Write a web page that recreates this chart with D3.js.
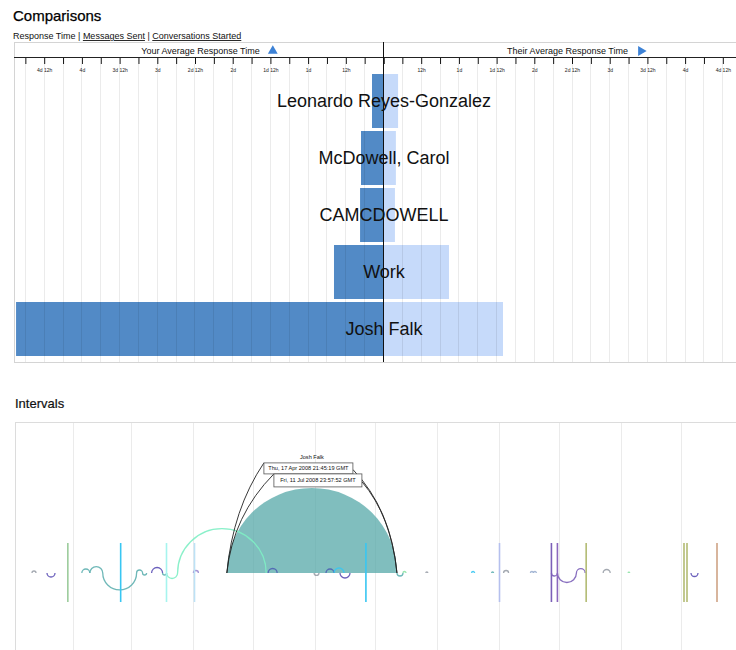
<!DOCTYPE html>
<html>
<head>
<meta charset="utf-8">
<script src="https://cdn.jsdelivr.net/npm/d3@7"></script>
<style>
body { margin: 0; background: #fff; font-family: "Liberation Sans", Arial, sans-serif; }
svg { display: block; }
</style>
</head>
<body>
<svg id="viz" width="736" height="650"></svg>
<script>
// --- comparisons data (hours) ---
const names = ["Leonardo Reyes-Gonzalez", "McDowell, Carol", "CAMCDOWELL", "Work", "Josh Falk"];
const yourHours = [3.5, 7, 7.3, 15.6, 116.8];
const theirHours = [4.8, 4.1, 3.8, 21, 38.2];
const tickHours = d3.range(0, 115, 6);
const menu = ["Response Time", "Messages Sent", "Conversations Started"];
const headerLabels = ["Your Average Response Time", "Their Average Response Time"];

// --- intervals data ---
// [start, end, contact, direction]  direction 1 = above the line, -1 = below
const intervals = [
    ["2008-01-11T12:00Z", "2008-01-13T12:00Z", "c1", 1],
    ["2008-01-19T00:00Z", "2008-01-23T00:00Z", "c2", -1],
    ["2008-02-05T10:00Z", "2008-02-09T10:00Z", "Josh Falk", 1],
    ["2008-02-09T10:00Z", "2008-02-15T21:00Z", "Josh Falk", 1],
    ["2008-02-15T21:00Z", "2008-03-03T19:00Z", "Josh Falk", -1],
    ["2008-03-03T19:00Z", "2008-03-06T19:00Z", "Josh Falk", 1],
    ["2008-03-06T19:00Z", "2008-03-08T19:00Z", "Josh Falk", -1],
    ["2008-03-11T07:00Z", "2008-03-16T19:00Z", "c2", 1],
    ["2008-03-16T19:00Z", "2008-03-18T19:00Z", "Josh Falk", -1],
    ["2008-03-18T19:00Z", "2008-03-24T07:00Z", "c3", -1],
    ["2008-03-24T07:00Z", "2008-05-07T14:00Z", "c3", 1],
    ["2008-04-01T05:00Z", "2008-04-03T17:00Z", "c4", 1],
    ["2008-04-17T21:45:19Z", "2008-07-11T23:57:52Z", "Josh Falk", 1],
    ["2008-05-08T14:00Z", "2008-05-13T02:00Z", "c5", 1],
    ["2008-05-31T13:00Z", "2008-06-03T00:00Z", "c1", -1],
    ["2008-06-06T12:00Z", "2008-06-10T12:00Z", "c5", 1],
    ["2008-06-10T12:00Z", "2008-06-15T12:00Z", "c6", 1],
    ["2008-06-13T12:00Z", "2008-06-18T12:00Z", "c2", -1],
    ["2008-07-12T00:00Z", "2008-07-15T00:00Z", "Josh Falk", -1],
    ["2008-07-15T00:00Z", "2008-07-16T12:00Z", "c7", 1],
    ["2008-07-26T10:00Z", "2008-07-27T10:00Z", "c1", 1],
    ["2008-08-18T07:00Z", "2008-08-19T19:00Z", "c6", 1],
    ["2008-08-28T07:00Z", "2008-08-29T07:00Z", "Josh Falk", 1],
    ["2008-09-03T07:00Z", "2008-09-05T19:00Z", "c1", 1],
    ["2008-09-16T17:00Z", "2008-09-18T05:00Z", "c8", 1],
    ["2008-09-18T05:00Z", "2008-09-19T17:00Z", "c8", 1],
    ["2008-09-27T05:00Z", "2008-09-30T05:00Z", "c9", -1],
    ["2008-09-30T05:00Z", "2008-10-09T17:00Z", "c9", -1],
    ["2008-10-09T17:00Z", "2008-10-14T02:00Z", "c9", 1],
    ["2008-10-23T02:00Z", "2008-10-26T14:00Z", "c1", 1],
    ["2008-11-04T14:00Z", "2008-11-05T08:00Z", "c7", 1],
    ["2008-12-06T00:00Z", "2008-12-09T12:00Z", "c2", -1]
];
// [time, contact] single message marks
const marks = [
    ["2008-01-29T10:00Z", "c10"],
    ["2008-02-24T20:00Z", "c6"],
    ["2008-03-18T18:00Z", "c11"],
    ["2008-04-01T18:00Z", "c12"],
    ["2008-06-26T11:00Z", "c6"],
    ["2008-09-01T06:00Z", "c13"],
    ["2008-09-27T05:00Z", "c9"],
    ["2008-09-30T05:00Z", "c14"],
    ["2008-10-14T14:00Z", "c15"],
    ["2008-12-02T12:00Z", "c15"],
    ["2008-12-04T00:00Z", "c15"],
    ["2008-12-19T00:00Z", "c16"]
];
const selected = 12; // the hovered interval

const contactColor = {
    "Josh Falk": "#5fb0b0", c1: "#9aa0a8", c2: "#5b4fb5", c3: "#7eeec4", c4: "#9a8ad0",
    c5: "#4e62b4", c6: "#38c6f2", c7: "#8fe3a6", c8: "#9cb0d0", c9: "#7b5fb8",
    c10: "#9ccc9c", c11: "#a6f4ee", c12: "#bde2f6", c13: "#b5c0ee", c14: "#8b68bd",
    c15: "#b3bb74", c16: "#cfa385"
};

const svg = d3.select('#viz');

// ===== Comparisons =====
svg.append('text')
    .attr('x', 13).attr('y', 21)
    .style('font-size', '15px').style('fill', '#000')
    .style('stroke', '#000').style('stroke-width', 0.25)
    .text('Comparisons');

const menuText = svg.append('text')
    .attr('x', 13).attr('y', 39)
    .style('font-size', '9px').style('fill', '#111');
menu.forEach((m, i) => {
    if (i > 0) menuText.append('tspan').text(' | ');
    menuText.append('tspan')
        .style('text-decoration', i > 0 ? 'underline' : 'none')
        .text(m);
});

const mid = 383;
const pxPerHour = 75.4 / 24;
const leftX = d3.scaleLinear().domain([0, 120]).range([mid, mid - 120 * pxPerHour]);
const rightX = d3.scaleLinear().domain([0, 120]).range([mid, mid + 120 * pxPerHour]);

const boxTop = 42, boxBottom = 362, headLine = 57;

svg.append('rect')
    .attr('x', 14.5).attr('y', boxTop + 0.5)
    .attr('width', 760).attr('height', boxBottom - boxTop)
    .attr('fill', 'none').attr('stroke', '#d4d4d4');

const headerX = [(14 + mid) / 2 + 2, mid + (mid - 14) / 2];
headerLabels.forEach((h, i) => {
    const t = svg.append('text')
        .attr('x', headerX[i]).attr('y', 54)
        .attr('text-anchor', 'middle')
        .style('font-size', '9px').style('fill', '#111')
        .text(h);
    const len = t.node().getComputedTextLength();
    svg.append('path')
        .attr('d', d3.symbol(d3.symbolTriangle, 42)())
        .attr('transform', `translate(${headerX[i] + len / 2 + 13}, 51) rotate(${i === 0 ? 0 : 90})`)
        .attr('fill', '#3d82d6');
});

const rowY = d3.scaleBand()
    .domain(names)
    .range([72.5, 357.5])
    .paddingInner(3 / 57)
    .paddingOuter(1.5 / 57);

function fmtHours(h) {
    if (h === 0 || h % 12 !== 0) return '';
    const d = Math.floor(h / 24);
    if (d === 0) return '12h';
    return h % 24 === 0 ? d + 'd' : d + 'd 12h';
}

const bars = svg.append('g');
bars.selectAll('rect.you')
    .data(names)
    .join('rect')
    .attr('class', 'you')
    .attr('x', (d, i) => leftX(yourHours[i]))
    .attr('y', d => rowY(d))
    .attr('width', (d, i) => mid - leftX(yourHours[i]))
    .attr('height', rowY.bandwidth())
    .attr('fill', '#528ac6');

bars.selectAll('rect.them')
    .data(names)
    .join('rect')
    .attr('class', 'them')
    .attr('x', mid)
    .attr('y', d => rowY(d))
    .attr('width', (d, i) => rightX(theirHours[i]) - mid)
    .attr('height', rowY.bandwidth())
    .attr('fill', '#c6dafa');

// grid lines on top of the bars
const grid = svg.append('g');
[leftX, rightX].forEach(sc => {
    grid.selectAll(null)
        .data(tickHours.filter(h => h > 0))
        .join('line')
        .attr('x1', d => Math.round(sc(d)) + 0.5)
        .attr('x2', d => Math.round(sc(d)) + 0.5)
        .attr('y1', headLine + 7)
        .attr('y2', boxBottom)
        .attr('stroke', '#000')
        .attr('stroke-opacity', 0.08);
});

// axes
[leftX, rightX].forEach(sc => {
    const ax = svg.append('g')
        .attr('transform', `translate(0.5, ${headLine})`)
        .call(d3.axisBottom(sc).tickValues(tickHours).tickSize(7).tickFormat(fmtHours));
    ax.select('.domain').remove();
    ax.selectAll('line').attr('stroke', '#111');
    ax.selectAll('text')
        .attr('y', 15).attr('dy', 0)
        .style('font-family', '"Liberation Sans", Arial, sans-serif')
        .style('font-size', '5px')
        .style('fill', '#222');
});

svg.append('line')
    .attr('x1', 14).attr('x2', 736)
    .attr('y1', headLine + 0.5).attr('y2', headLine + 0.5)
    .attr('stroke', '#222');

svg.append('line')
    .attr('x1', mid + 0.5).attr('x2', mid + 0.5)
    .attr('y1', boxTop).attr('y2', boxBottom)
    .attr('stroke', '#111');

svg.append('g').selectAll('text')
    .data(names)
    .join('text')
    .attr('x', mid + 1)
    .attr('y', d => rowY(d) + rowY.bandwidth() / 2)
    .attr('dy', '0.36em')
    .attr('text-anchor', 'middle')
    .style('font-size', '18px')
    .style('fill', '#111')
    .text(d => d);

// ===== Intervals =====
svg.append('text')
    .attr('x', 15).attr('y', 408)
    .style('font-size', '13px').style('fill', '#111')
    .style('stroke', '#111').style('stroke-width', 0.2)
    .text('Intervals');

const iTop = 422, iBottom = 660, base = 573;
const xT = d3.scaleUtc()
    .domain([new Date(Date.UTC(2008, 0, 3)), new Date(Date.UTC(2009, 0, 1))])
    .range([15, 743]);

svg.append('rect')
    .attr('x', 15.5).attr('y', iTop + 0.5)
    .attr('width', 760).attr('height', iBottom - iTop)
    .attr('fill', 'none').attr('stroke', '#dcdcdc');

svg.append('g').selectAll('line')
    .data(xT.ticks(d3.utcMonth).filter(d => d > xT.domain()[0]))
    .join('line')
    .attr('x1', d => Math.round(xT(d)) + 0.5)
    .attr('x2', d => Math.round(xT(d)) + 0.5)
    .attr('y1', iTop + 1)
    .attr('y2', iBottom)
    .attr('stroke', '#ebebeb');

function arcPath(d, close) {
    const x0 = xT(new Date(d[0])), x1 = xT(new Date(d[1]));
    const r = (x1 - x0) / 2;
    const sweep = d[3] > 0 ? 1 : 0;
    return `M${x0},${base}A${r},${r} 0 0 ${sweep} ${x1},${base}` + (close ? 'Z' : '');
}

const arcs = svg.append('g');
// highlighted interval, filled
arcs.append('path')
    .attr('d', arcPath(intervals[selected], true))
    .attr('fill', '#56a8a8')
    .attr('fill-opacity', 0.75)
    .attr('stroke', 'none');

arcs.selectAll('path.iv')
    .data(intervals.filter((d, i) => i !== selected))
    .join('path')
    .attr('class', 'iv')
    .attr('d', d => arcPath(d, false))
    .attr('fill', 'none')
    .attr('stroke', d => contactColor[d[2]])
    .attr('stroke-width', 1.3)
    .attr('stroke-opacity', 0.9);

svg.append('g').selectAll('line')
    .data(marks)
    .join('line')
    .attr('x1', d => xT(new Date(d[0])))
    .attr('x2', d => xT(new Date(d[0])))
    .attr('y1', base - 30)
    .attr('y2', base + 29)
    .attr('stroke', d => contactColor[d[1]])
    .attr('stroke-width', 1.6);

// tooltip for the highlighted interval
const sel = intervals[selected];
const sx0 = xT(new Date(sel[0])), sx1 = xT(new Date(sel[1]));
const cx = (sx0 + sx1) / 2, arcTop = base - (sx1 - sx0) / 2;
const fmtDate = d3.utcFormat('%a, %d %b %Y %H:%M:%S GMT');
const tip = svg.append('g');
const boxes = [
    [cx - 48, arcTop - 25, 89, 11, sel[0]],
    [cx - 38, arcTop - 14, 88, 13, sel[1]]
];
boxes.forEach(b => {
    const [bx, by, bw, bh] = b;
    const cy = by + (base - by) * 0.42;
    tip.append('path')
        .attr('d', `M${bx},${by}Q${sx0 + 6},${cy} ${sx0},${base}`)
        .attr('fill', 'none').attr('stroke', '#222').attr('stroke-width', 0.9);
    tip.append('path')
        .attr('d', `M${bx + bw},${by + bh * 0.6}Q${sx1 - 6},${cy} ${sx1},${base}`)
        .attr('fill', 'none').attr('stroke', '#222').attr('stroke-width', 0.9);
});
boxes.forEach(b => {
    const [bx, by, bw, bh, t] = b;
    tip.append('rect')
        .attr('x', bx).attr('y', by).attr('width', bw).attr('height', bh)
        .attr('fill', '#fff').attr('stroke', '#555').attr('stroke-width', 0.8);
    tip.append('text')
        .attr('x', bx + bw / 2).attr('y', by + bh / 2)
        .attr('dy', '0.35em')
        .attr('text-anchor', 'middle')
        .style('font-size', '5.6px').style('fill', '#111')
        .text(fmtDate(new Date(t)));
});
tip.append('text')
    .attr('x', cx).attr('y', arcTop - 29)
    .attr('text-anchor', 'middle')
    .style('font-size', '5.6px').style('fill', '#111')
    .text(sel[2]);
</script>
</body>
</html>
